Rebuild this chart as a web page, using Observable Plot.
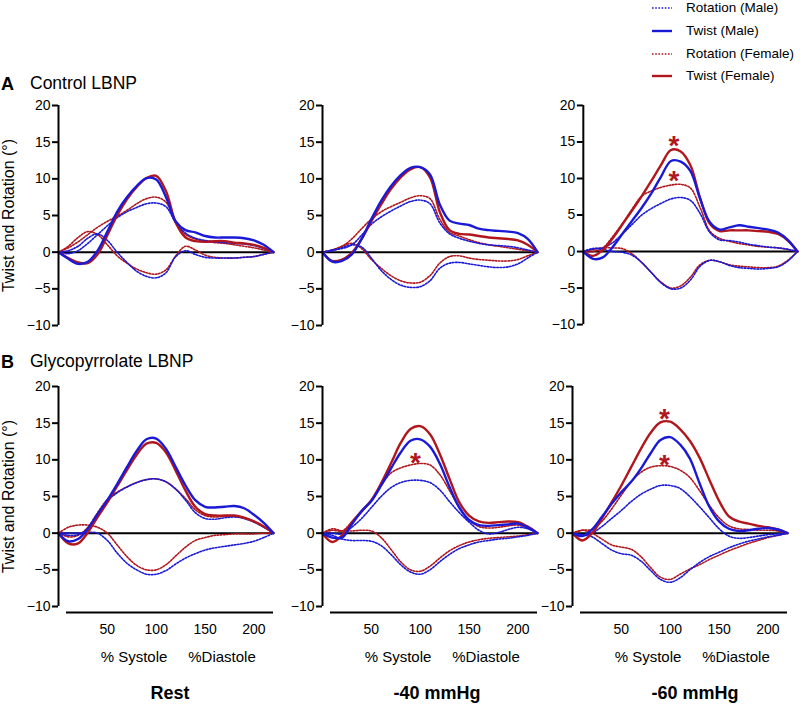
<!DOCTYPE html>
<html><head><meta charset="utf-8">
<script src="https://cdn.jsdelivr.net/npm/d3@7"></script>
<script src="https://cdn.jsdelivr.net/npm/@observablehq/plot@0.6"></script>
<style>
body{margin:0;background:#fff;}
#root{position:relative;width:800px;height:705px;font-family:"Liberation Sans",Arial,sans-serif;color:#000;overflow:hidden;background:#fff;}
.abs{position:absolute;white-space:nowrap;line-height:1;}
.ctr{transform:translate(-50%,-50%);}
.panel{position:absolute;}
</style></head><body><div id="root"></div>
<script>
// ---------- data ----------
const xPct = [0,10,20,30,40,50,60,70,80,90,100,110,120,130,140,150,160,170,180,190,200,210,220];
const yTicks = [-10,-5,0,5,10,15,20];
const xTicks = [50,100,150,200];
const protocolLetters = ["A","B"];
const protocols = ["Control LBNP","Glycopyrrolate LBNP"];
const conditions = ["Rest","-40 mmHg","-60 mmHg"];
const seriesNames = ["Rotation (Male)","Twist (Male)","Rotation (Female)","Twist (Female)"];
const yLabel = "Twist and Rotation (°)";
const xLabels = ["% Systole","%Diastole"];

// Control LBNP — Rest
const ctlRest_twistM = [0,-0.9,-1.6,-1.3,0.2,2.8,5.5,7.5,9.0,10.1,9.9,7.5,4.2,3.0,2.7,2.2,2.0,2.0,2.0,1.9,1.6,1.0,0];
const ctlRest_twistF = [0,-0.8,-1.4,-1.5,-0.3,2.3,5.0,7.2,8.9,10.1,10.4,8.3,4.0,2.0,1.5,1.4,1.5,1.5,1.3,1.2,1.0,0.6,0];
const ctlRest_apexM  = [0,-0.2,0.2,1.2,2.4,3.6,4.7,5.5,6.1,6.6,6.7,6.2,4.0,2.6,1.9,1.6,1.4,1.3,1.2,1.1,0.9,0.5,0];
const ctlRest_apexF  = [0,0.6,1.4,2.4,3.4,4.2,4.9,5.7,6.6,7.3,7.5,6.8,4.0,2.4,1.8,1.5,1.3,1.2,1.0,0.8,0.6,0.3,0];
const ctlRest_baseM  = [0,0.2,0.8,1.9,2.5,1.6,0.0,-1.4,-2.6,-3.3,-3.5,-2.8,-0.6,0.2,-0.3,-0.7,-0.8,-0.8,-0.8,-0.7,-0.6,-0.3,0];
const ctlRest_baseF  = [0,0.8,2.0,2.8,2.4,1.0,-0.5,-1.5,-2.3,-2.8,-3.0,-2.4,-0.5,0.8,0.3,-0.4,-0.7,-0.8,-0.8,-0.7,-0.6,-0.3,0];
// Control LBNP — -40 mmHg
const ctl40_twistM = [0,-1.3,-1.2,-0.3,1.8,4.5,7.0,9.0,10.5,11.5,11.6,10.6,6.5,4.3,3.9,3.7,3.2,3.0,2.9,2.8,2.6,1.8,0];
const ctl40_twistF = [0,-1.2,-1.0,-0.1,1.8,4.2,6.5,8.6,10.2,11.3,11.6,10.2,5.5,3.0,2.5,2.4,2.2,2.0,1.9,1.8,1.6,1.0,0];
const ctl40_apexM  = [0,0.3,0.5,1.0,2.3,3.8,4.8,5.6,6.3,6.9,7.1,6.6,4.0,2.5,1.9,1.5,1.2,1.0,0.9,0.8,0.6,0.3,0];
const ctl40_apexF  = [0,0.3,0.8,1.8,3.2,4.5,5.5,6.2,6.8,7.4,7.7,7.3,4.5,2.7,2.2,1.7,1.3,1.0,0.8,0.6,0.4,0.2,0];
const ctl40_baseM  = [0,0.2,0.6,1.0,0.7,-0.8,-2.5,-3.7,-4.5,-4.8,-4.7,-3.9,-2.2,-1.5,-1.4,-1.6,-1.8,-2.0,-2.1,-2.0,-1.6,-0.8,0];
const ctl40_baseF  = [0,0.3,0.8,1.2,0.5,-1.0,-2.2,-3.2,-3.9,-4.2,-4.1,-3.2,-1.5,-0.6,-0.5,-0.8,-1.0,-1.1,-1.2,-1.2,-1.0,-0.5,0];
// Control LBNP — -60 mmHg
const ctl60_twistM = [0,-1.0,-0.8,0.6,2.4,4.2,6.0,8.0,10.3,12.4,12.3,11.0,7.2,4.0,3.0,3.3,3.6,3.4,3.2,3.0,2.6,1.6,0];
const ctl60_twistF = [0,-0.6,0.2,1.8,3.7,5.6,7.6,9.7,11.9,13.9,13.7,11.8,7.3,3.8,2.8,2.9,2.9,2.9,2.8,2.7,2.4,1.5,0];
const ctl60_apexM  = [0,0.4,0.5,1.2,2.4,3.7,5.0,5.9,6.6,7.2,7.4,7.0,5.2,2.6,1.6,1.5,1.3,1.0,0.8,0.6,0.5,0.3,0];
const ctl60_apexF  = [0,0.0,0.5,2.0,3.8,5.8,7.6,8.3,8.8,9.1,9.2,8.7,6.0,2.8,1.8,1.4,1.1,0.9,0.7,0.6,0.5,0.3,0];
const ctl60_baseM  = [0,0.4,0.3,0.0,-0.1,-0.5,-1.5,-2.9,-4.3,-5.1,-5.0,-3.9,-2.0,-1.2,-1.4,-1.9,-2.2,-2.3,-2.4,-2.3,-2.1,-1.3,0];
const ctl60_baseF  = [0,0.3,0.5,0.5,0.4,-0.3,-1.5,-2.9,-4.2,-5.0,-4.7,-3.5,-1.8,-1.2,-1.4,-1.8,-2.0,-2.1,-2.2,-2.2,-2.0,-1.2,0];
// Glycopyrrolate LBNP — Rest
const glyRest_twistM = [0,-1.1,-0.8,0.6,2.6,4.5,6.7,9.0,11.2,12.8,12.9,11.5,9.0,6.5,4.5,3.6,3.5,3.6,3.7,3.4,2.5,1.4,0];
const glyRest_twistF = [0,-1.4,-1.4,0.1,2.2,4.2,6.4,8.6,10.7,12.2,12.3,11.0,8.5,5.8,3.6,2.6,2.4,2.4,2.4,2.1,1.6,0.9,0];
const glyRest_apexM  = [0,-0.3,-0.2,0.6,2.5,4.4,5.5,6.3,6.9,7.3,7.4,7.0,6.0,4.5,2.8,2.0,1.9,2.1,2.2,2.0,1.5,0.8,0];
const glyRest_apexF  = [0,-0.5,-0.3,0.8,2.8,4.6,5.6,6.3,6.9,7.3,7.4,7.0,6.0,4.7,3.2,2.4,2.2,2.3,2.3,2.1,1.6,0.9,0];
const glyRest_baseM  = [0,0.0,0.0,0.1,0.0,-1.0,-2.7,-4.1,-5.0,-5.6,-5.6,-5.1,-4.2,-3.4,-2.8,-2.3,-2.0,-1.8,-1.6,-1.4,-1.1,-0.6,0];
const glyRest_baseF  = [0,0.8,1.1,1.1,0.8,0.0,-1.6,-3.2,-4.4,-5.0,-5.0,-4.3,-3.1,-1.9,-1.0,-0.6,-0.3,-0.2,-0.1,-0.1,-0.1,0.0,0];
// Glycopyrrolate LBNP — -40 mmHg
const gly40_twistM = [0,-0.6,-0.6,1.2,3.0,4.4,6.5,8.8,11.0,12.6,12.8,11.8,9.5,6.3,3.5,1.8,1.1,1.0,1.1,1.2,1.3,0.8,0];
const gly40_twistF = [0,-1.2,-0.3,1.5,3.0,4.5,6.8,9.5,12.3,14.2,14.6,13.5,10.8,7.4,4.2,2.4,1.6,1.4,1.5,1.6,1.5,0.9,0];
const gly40_apexM  = [0,0.0,-0.1,0.8,2.0,3.5,5.0,6.2,6.9,7.2,7.2,6.9,5.9,4.3,2.8,1.5,0.4,-0.1,0.1,0.5,0.8,0.6,0];
const gly40_apexF  = [0,0.4,0.3,1.5,2.9,4.4,6.5,8.2,8.9,9.3,9.5,9.3,8.0,5.8,3.5,1.8,0.9,0.7,0.8,1.0,1.1,0.7,0];
const gly40_baseM  = [0,-0.3,-0.8,-1.0,-1.0,-1.1,-1.7,-2.9,-4.3,-5.3,-5.6,-5.0,-3.9,-2.9,-2.1,-1.6,-1.2,-1.0,-0.8,-0.7,-0.5,-0.3,0];
const gly40_baseF  = [0,0.6,0.3,0.3,0.4,0.3,-0.6,-2.2,-3.9,-5.0,-5.2,-4.5,-3.4,-2.4,-1.7,-1.2,-0.9,-0.7,-0.6,-0.5,-0.4,-0.2,0];
// Glycopyrrolate LBNP — -60 mmHg
const gly60_twistM = [0,-0.4,0.5,2.2,4.0,5.6,7.0,8.8,10.9,12.7,13.1,12.1,10.2,6.8,3.6,1.6,0.6,0.3,0.4,0.6,0.7,0.5,0];
const gly60_twistF = [0,-1.0,0.0,2.0,4.2,6.5,9.0,11.5,13.7,15.1,15.2,14.2,12.6,10.3,7.3,4.4,2.3,1.6,1.3,1.0,0.8,0.5,0];
const gly60_apexM  = [0,-0.3,0.0,0.9,2.0,3.1,4.3,5.3,6.0,6.5,6.5,6.1,5.0,3.6,2.1,0.6,-0.4,-0.7,-0.6,-0.4,-0.2,-0.1,0];
const gly60_apexF  = [0,0.4,0.5,1.6,3.3,5.2,7.0,8.3,9.0,9.2,9.1,8.6,7.6,5.8,3.8,2.1,1.0,0.6,0.5,0.4,0.4,0.3,0];
const gly60_baseM  = [0,-0.2,-0.5,-1.4,-2.3,-2.8,-3.0,-3.8,-5.1,-6.3,-6.7,-6.1,-5.0,-4.0,-3.2,-2.6,-2.0,-1.5,-1.1,-0.8,-0.5,-0.3,0];
const gly60_baseF  = [0,0.4,0.0,-0.8,-1.6,-1.9,-2.2,-3.2,-4.7,-6.0,-6.3,-5.6,-4.9,-4.3,-3.6,-3.0,-2.4,-1.9,-1.4,-1.0,-0.6,-0.3,0];

// significance asterisks (female vs male)
const asteriskProtocol  = [0,0,1,1,1];
const asteriskCondition = [2,2,1,2,2];
const asteriskX = [93,93,95,94,94];
const asteriskY = [15.4,10.6,10.5,16.5,10.3];

// ---------- assemble ----------
const panelSeries = [
  [
    {twistM:ctlRest_twistM,twistF:ctlRest_twistF,apexM:ctlRest_apexM,apexF:ctlRest_apexF,baseM:ctlRest_baseM,baseF:ctlRest_baseF},
    {twistM:ctl40_twistM,twistF:ctl40_twistF,apexM:ctl40_apexM,apexF:ctl40_apexF,baseM:ctl40_baseM,baseF:ctl40_baseF},
    {twistM:ctl60_twistM,twistF:ctl60_twistF,apexM:ctl60_apexM,apexF:ctl60_apexF,baseM:ctl60_baseM,baseF:ctl60_baseF}
  ],
  [
    {twistM:glyRest_twistM,twistF:glyRest_twistF,apexM:glyRest_apexM,apexF:glyRest_apexF,baseM:glyRest_baseM,baseF:glyRest_baseF},
    {twistM:gly40_twistM,twistF:gly40_twistF,apexM:gly40_apexM,apexF:gly40_apexF,baseM:gly40_baseM,baseF:gly40_baseF},
    {twistM:gly60_twistM,twistF:gly60_twistF,apexM:gly60_apexM,apexF:gly60_apexF,baseM:gly60_baseM,baseF:gly60_baseF}
  ]
];

const BLUE = "#1a1ad6", RED = "#b0161c";
const FONT = "'Liberation Sans', Arial, sans-serif";
const root = document.getElementById("root");

function longRows(series, keys) {
  const out = [];
  for (const k of keys) series[k].forEach((v, i) => out.push({key: k, x: xPct[i], y: v}));
  return out;
}

function addText(t, cx, cy, size, bold, center = true) {
  const d = document.createElement("div");
  d.className = "abs" + (center ? " ctr" : "");
  d.textContent = t;
  d.style.left = cx + "px"; d.style.top = cy + "px";
  d.style.fontSize = size + "px";
  if (!center) d.style.transform = "translate(0,-50%)";
  if (bold) d.style.fontWeight = "bold";
  root.appendChild(d);
  return d;
}

// layout (pixels)
const axisLeft = [[58,322,583],[58,322,572]];
const frameTop = [105,386];
const innerH = 220, innerW = 215, mTop = 14;

for (let p = 0; p < 2; p++) {
  for (let c = 0; c < 3; c++) {
    const s = panelSeries[p][c];
    const isLeft = c === 0, isBottom = p === 1;
    const ml = isLeft ? 58 : 46, mr = 3, mb = isBottom ? 50 : 6;
    const rotM = longRows(s, ["apexM","baseM"]);
    const rotF = longRows(s, ["apexF","baseF"]);
    const twM = longRows(s, ["twistM"]);
    const twF = longRows(s, ["twistF"]);
    const stars = asteriskX.map((x, i) => ({x, y: asteriskY[i], p: asteriskProtocol[i], c: asteriskCondition[i]}))
      .filter(d => d.p === p && d.c === c);
    const marks = [
      Plot.ruleY([0], {stroke: "#000", strokeWidth: 2}),
      Plot.line(rotF, {x: "x", y: "y", z: "key", stroke: RED, strokeWidth: 1.6, strokeDasharray: "1.6,1.6", curve: "catmull-rom"}),
      Plot.line(rotM, {x: "x", y: "y", z: "key", stroke: BLUE, strokeWidth: 1.6, strokeDasharray: "1.6,1.6", curve: "catmull-rom"}),
      Plot.line(twF, {x: "x", y: "y", stroke: RED, strokeWidth: 2.4, curve: "catmull-rom"}),
      Plot.line(twM, {x: "x", y: "y", stroke: BLUE, strokeWidth: 2.4, curve: "catmull-rom"}),
      Plot.text(stars, {x: "x", y: "y", text: () => "*", fill: RED, fontSize: 28, fontWeight: "bold", dy: 7, fontFamily: FONT}),
      Plot.axisY({ticks: yTicks, tickSize: 6, tickPadding: 2, strokeWidth: 2, fontSize: 14, label: null}),
      Plot.ruleX([0], {y1: -10, y2: 20, stroke: "#000", strokeWidth: 2})
    ];
    if (isLeft) marks.push(Plot.text([yLabel], {frameAnchor: "left", textAnchor: "middle", rotate: -90, dx: -50, fontSize: 16, fontFamily: FONT}));
    if (isBottom) {
      marks.push(Plot.axisX({ticks: xTicks, tickSize: 0, tickPadding: 18, fontSize: 14, label: null}));
      marks.push(Plot.ruleY([-10], {x1: 0, x2: 220, dy: 6, insetLeft: 8, stroke: "#000", strokeWidth: 2}));
    }
    const chart = Plot.plot({
      width: ml + innerW + mr,
      height: mTop + innerH + mb,
      marginLeft: ml, marginRight: mr, marginTop: mTop, marginBottom: mb,
      x: {domain: [0, 220], axis: null},
      y: {domain: [-10, 20], axis: null},
      style: {fontFamily: FONT, fontSize: "14px", background: "transparent", overflow: "visible"},
      marks
    });
    const wrap = document.createElement("div");
    wrap.className = "panel";
    wrap.style.left = (axisLeft[p][c] - ml) + "px";
    wrap.style.top = (frameTop[p] - mTop) + "px";
    wrap.appendChild(chart);
    root.appendChild(wrap);
    if (isBottom) {
      const offs = [76, 164];
      xLabels.forEach((t, i) => addText(t, axisLeft[p][c] + offs[i], 656, 15, false));
    }
  }
}

// row titles
const rowTitleY = [84, 362];
protocols.forEach((t, i) => {
  addText(protocolLetters[i], 1, rowTitleY[i], 18, true, false);
  addText(t, 30, rowTitleY[i], 17.5, false, false);
});
// column titles
const colTitleX = [170, 437, 695];
conditions.forEach((t, i) => addText(t, colTitleX[i], 693, 18, true));

// legend
const legendY = [8, 31, 54, 76];
const legendStyle = [
  {stroke: BLUE, dash: "1.6,1.6", w: 1.6},
  {stroke: BLUE, dash: null, w: 2.4},
  {stroke: RED, dash: "1.6,1.6", w: 1.6},
  {stroke: RED, dash: null, w: 2.4}
];
seriesNames.forEach((t, i) => {
  const ns = "http://www.w3.org/2000/svg";
  const svg = document.createElementNS(ns, "svg");
  svg.setAttribute("width", 22); svg.setAttribute("height", 6);
  svg.style.position = "absolute"; svg.style.left = "651px"; svg.style.top = (legendY[i] - 3) + "px";
  const ln = document.createElementNS(ns, "line");
  ln.setAttribute("x1", 1); ln.setAttribute("x2", 21); ln.setAttribute("y1", 3); ln.setAttribute("y2", 3);
  ln.setAttribute("stroke", legendStyle[i].stroke); ln.setAttribute("stroke-width", legendStyle[i].w);
  if (legendStyle[i].dash) ln.setAttribute("stroke-dasharray", legendStyle[i].dash);
  svg.appendChild(ln); root.appendChild(svg);
  addText(t, 686, legendY[i], 13.5, false, false);
});
</script></body></html>
